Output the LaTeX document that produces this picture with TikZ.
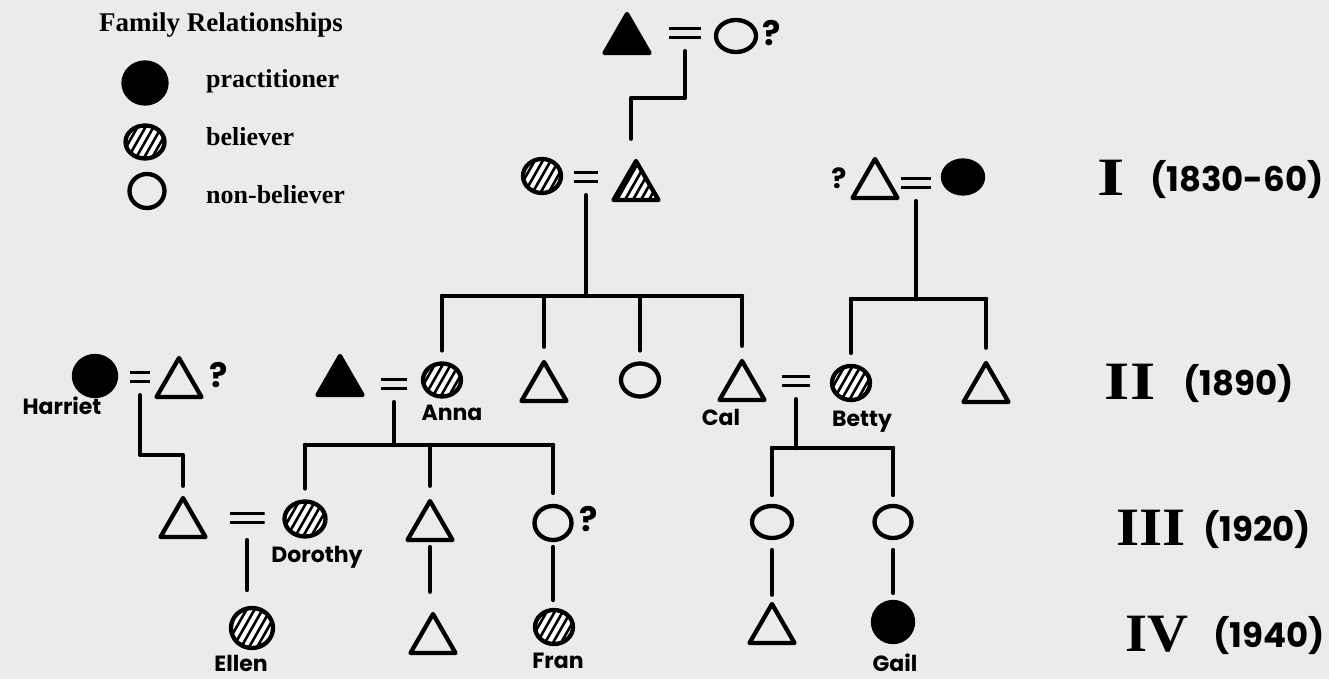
\documentclass[tikz,border=0pt]{standalone}
\usepackage{graphicx}
\usepackage{fontspec}
\setmainfont{Liberation Serif}
\newfontfamily\hand{Poppins}
\usetikzlibrary{shapes.geometric}
\definecolor{bg}{RGB}{235,235,233}
\begin{document}
\begin{tikzpicture}[x=1pt,y=-1pt,
  ln/.style={line width=4.5pt, line cap=round, line join=round},
  vl/.style={ln, shorten <=5pt, shorten >=8pt},
  drop/.style={ln, shorten >=11pt},
  tri/.style={regular polygon, regular polygon sides=3, minimum size=52pt, inner sep=0pt, draw, line width=4.3pt, line join=round},
  circ/.style={ellipse, inner sep=0pt, draw, line width=4.3pt},
  sz/.style 2 args={minimum width=#1pt, minimum height=#2pt},
  full/.style={fill=black},
  hatch/.style={fill=white, path picture={\foreach \k in {-56,-48,...,56} \draw[line width=2.6pt] ([xshift=\k pt-20pt, yshift=-35pt]path picture bounding box.center) -- ++(40pt,70pt);}},
  marry/.style={minimum width=#1pt, minimum height=36pt, inner sep=0pt, path picture={\draw[line width=3.2pt] ([yshift=4.5pt]path picture bounding box.west) -- ([yshift=4.5pt]path picture bounding box.east) ([yshift=-4.5pt]path picture bounding box.west) -- ([yshift=-4.5pt]path picture bounding box.east);}},
  marry/.default=26,
  lbl/.style={font=\hand\bfseries\fontsize{22}{22}\selectfont, inner sep=0pt},
  q/.style={font=\hand\bfseries\fontsize{34}{34}\selectfont, inner sep=0pt},
  roman/.style={font=\bfseries\fontsize{54}{54}\selectfont, inner sep=0pt},
  year/.style={font=\hand\bfseries\fontsize{34}{34}\selectfont, inner sep=0pt, anchor=west},
  leg/.style={font=\bfseries\fontsize{26}{26}\selectfont, inner sep=0pt, anchor=base west},
]
\fill[bg] (0,0) rectangle (1329,679);
\useasboundingbox (0,0) rectangle (1329,679);

% legend
\node[leg, font=\bfseries\fontsize{27}{27}\selectfont] (title) at (99,32) {Family Relationships};
\node[circ, full, sz={43}{41}] (lp) at (145,83) {};
\node[circ, hatch, sz={39}{33}] (lb) at (145,142) {};
\node[circ, sz={35}{34}] (lnb) at (147,191) {};
\node[leg] (tp) at (206,88) {practitioner};
\node[leg] (tb) at (206,146) {believer};
\node[leg] (tn) at (206,204) {non-believer};

% top couple
\node[tri, full] (t0) at (627,40) {};
\node[marry=32] (m0) at (685,33) {};
\node[circ, sz={40}{32}] (c0) at (736,36) {};
\node[q] (q0) at (772,33) {?};

% generation I
\node[circ, hatch, sz={38}{34}] (c1) at (542,176) {};
\node[marry=24] (m1) at (586,177) {};
\node[tri, hatch] (t1) at (636,187) {};
\node[q, font=\hand\bfseries\fontsize{28}{28}\selectfont] (q1) at (839,178) {?};
\node[tri] (t2) at (875,185) {};
\node[marry=30] (m2) at (916,183) {};
\node[circ, full, sz={40}{33}] (c2) at (963,177) {};

\coordinate (k0) at (631,98);
\draw[ln, shorten >=18pt] (m0.south) |- (k0) -- (k0 |- t1.north);

% generation II
\node[circ, full, sz={42}{40}] (harriet) at (95,376) {};
\node[marry=20] (mh) at (140,377) {};
\node[tri] (th) at (179,384) {};
\node[q] (qh) at (219,375) {?};
\node[lbl] (lharriet) at (62,406) {Harriet};
\node[tri, full] (ta) at (340,382) {};
\node[marry=26] (ma) at (394,384) {};
\node[circ, hatch, sz={38}{33}] (anna) at (442,380) {};
\node[lbl] (lanna) at (452,413) {Anna};
\node[tri] (sib1) at (544,388) {};
\node[circ, sz={38}{33}] (sib2) at (640,380) {};
\node[tri] (cal) at (742,387) {};
\node[lbl] (lcal) at (721,417) {Cal};
\node[marry=28] (mc) at (796,381) {};
\node[circ, hatch, sz={38}{34}] (betty) at (851,383) {};
\node[lbl] (lbetty) at (862,422) {Betty};
\node[tri] (sib3) at (986,389) {};

\coordinate (s1) at (585,296);
\draw[ln] (m1.south) -- (m1.south |- s1);
\draw[ln] (anna.north |- s1) -- (cal.north |- s1);
\foreach \c in {anna,sib1,sib2,cal} \draw[drop] (\c.north |- s1) -- (\c.north);
\coordinate (s2) at (916,299);
\draw[ln] (m2.south) -- (m2.south |- s2);
\draw[ln] (betty.north |- s2) -- (sib3.north |- s2);
\foreach \c in {betty,sib3} \draw[drop] (\c.north |- s2) -- (\c.north);

% generation III
\node[tri] (hs) at (183,524) {};
\node[marry=35] (md) at (247,518) {};
\node[circ, hatch, sz={41}{35}] (dor) at (305,519) {};
\node[lbl] (ldor) at (317,557) {Dorothy};
\node[tri] (as) at (430,527) {};
\node[circ, sz={37}{34}] (fm) at (553,523) {};
\node[q] (qf) at (589,519) {?};
\node[circ, sz={40}{32}] (cb1) at (772,522) {};
\node[circ, sz={37}{32}] (cb2) at (893,522) {};

\coordinate (hk) at (183,455);
\draw[ln, shorten >=8pt] (mh.south) |- (hk) -- (hs.north);
\coordinate (s3) at (394,445);
\draw[ln] (ma.south) -- (ma.south |- s3);
\draw[ln] (dor.north |- s3) -- (fm.north |- s3);
\foreach \c in {dor,as,fm} \draw[drop] (\c.north |- s3) -- (\c.north);
\coordinate (s4) at (796,448);
\draw[ln] (mc.south) -- (mc.south |- s4);
\draw[ln] (cb1.north |- s4) -- (cb2.north |- s4);
\foreach \c in {cb1,cb2} \draw[ln, shorten >=9pt] (\c.north |- s4) -- (\c.north);

% generation IV
\node[circ, hatch, sz={42}{40}] (ellen) at (252,628) {};
\node[lbl] (lellen) at (241,663) {Ellen};
\node[tri] (gs) at (433,640) {};
\node[circ, hatch, sz={38}{34}] (fran) at (554,627) {};
\node[lbl] (lfran) at (558,661) {Fran};
\node[tri] (cs) at (772,630) {};
\node[circ, full, sz={40}{40}] (gail) at (893,622) {};
\node[lbl] (lgail) at (895,663) {Gail};

\draw[ln, shorten <=4pt, shorten >=16pt] (md.south) -- (md.south |- ellen.north);
\draw[vl, shorten >=18pt] (as.south) -- (as.south |- gs.north);
\draw[vl] (fm.south) -- (fm.south |- fran.north);
\draw[vl, shorten <=10pt, shorten >=5pt] (cb1.south) -- (cb1.south |- cs.north);
\draw[vl, shorten <=10pt, shorten >=7pt] (cb2.south) -- (cb2.south |- gail.north);

% generation labels
\node[roman] (g1) at (1111,178) {\scalebox{1.3}[1]{I}};
\node[year] (y1) at (1150,180) {(1830-60)};
\node[roman] (g2) at (1130,382) {\scalebox{1.2}[1]{II}};
\node[year] (y2) at (1183,384) {(1890)};
\node[roman] (g3) at (1151,528) {\scalebox{1.1}[1]{III}};
\node[year] (y3) at (1203,530) {(1920)};
\node[roman] (g4) at (1157,634) {\scalebox{1.05}[1]{IV}};
\node[year] (y4) at (1213,636) {(1940)};
\end{tikzpicture}
\end{document}
